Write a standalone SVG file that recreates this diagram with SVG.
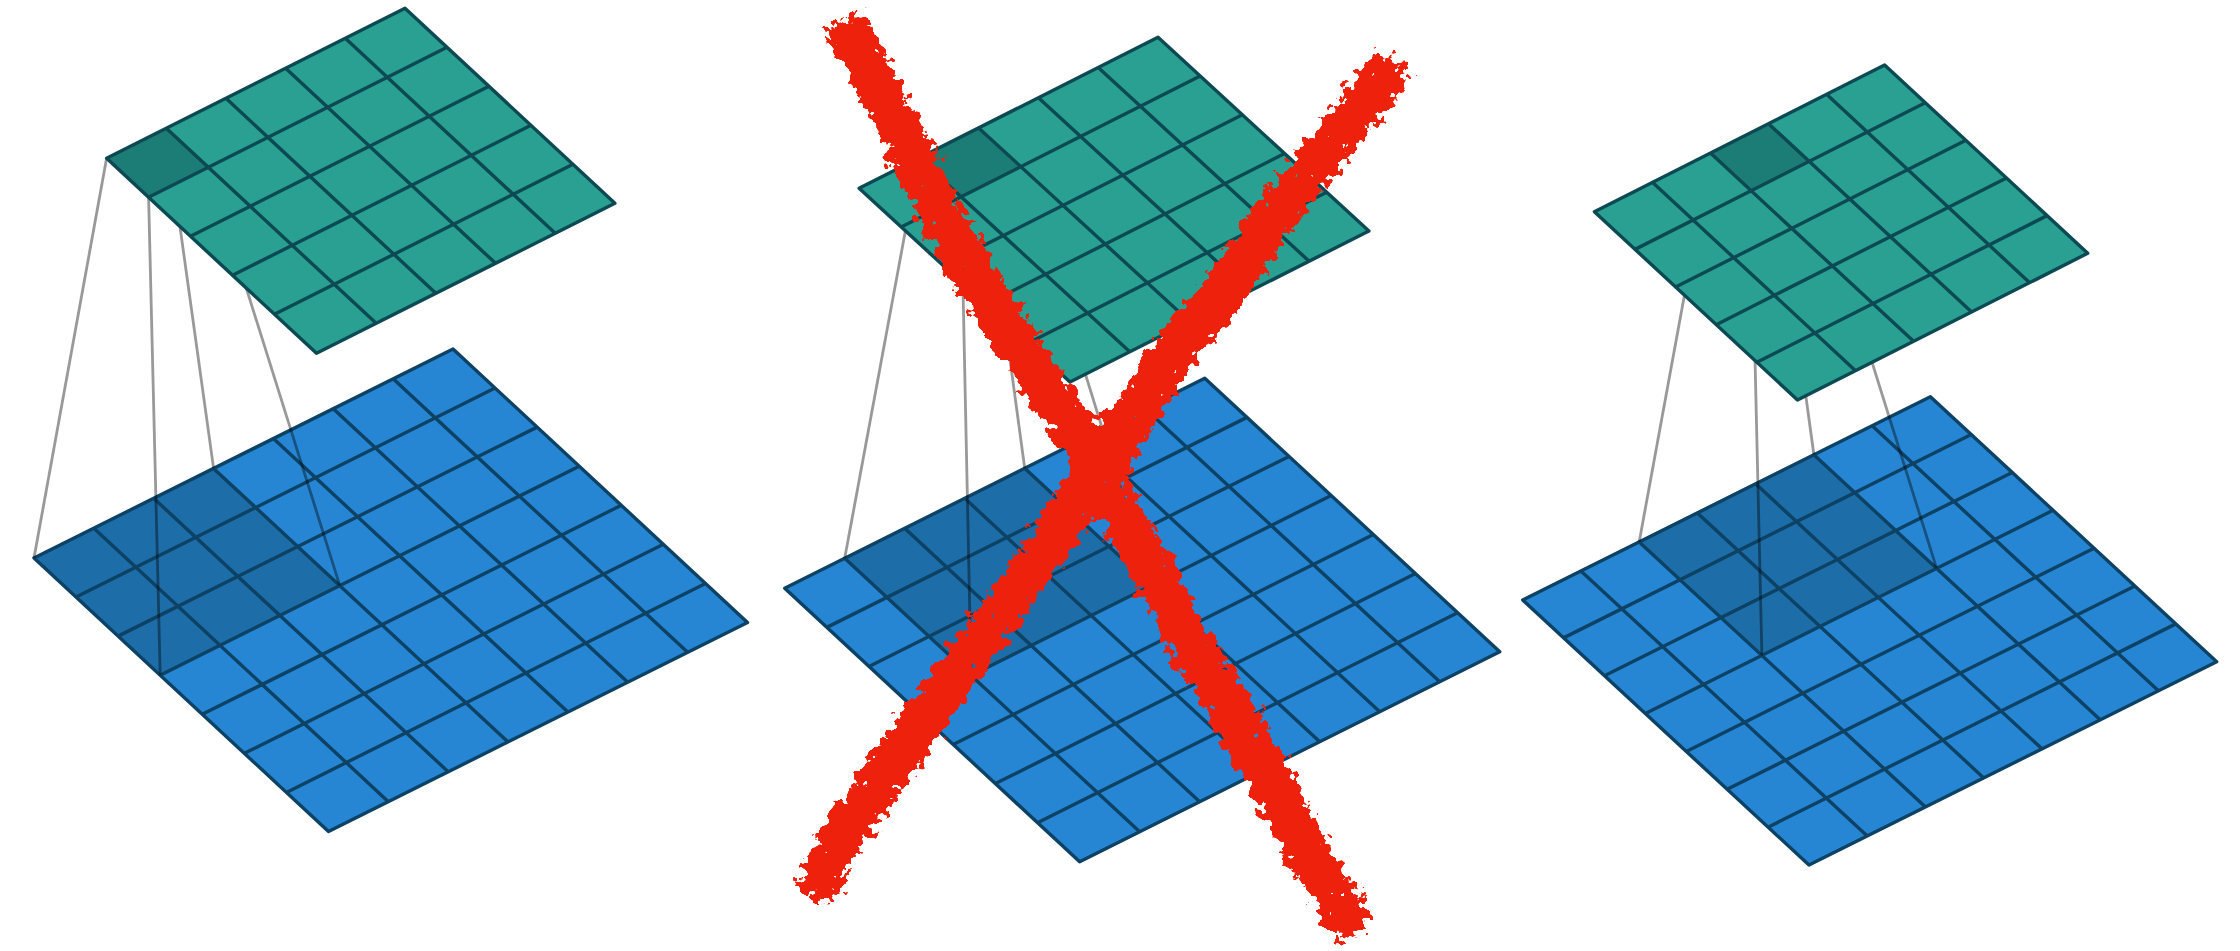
<svg xmlns="http://www.w3.org/2000/svg" xmlns:xlink="http://www.w3.org/1999/xlink" width="2240" height="951" viewBox="0 0 2240 951">
<style>
.b{fill:#2686d4}
.bs{fill:#1c6da8}
.t{fill:#29a092}
.ts{fill:#1f7b76}
.bl{fill:none;stroke:#0c4265;stroke-width:3.4;vector-effect:non-scaling-stroke;stroke-linejoin:round}
.tl{fill:none;stroke:#0c4a52;stroke-width:3.4;vector-effect:non-scaling-stroke;stroke-linejoin:round}
.panel{filter:url(#soft)}
#connectors{mix-blend-mode:multiply}
#connectors line{stroke:#999;stroke-width:2.8}
#cross path{fill:none;stroke:#ee220c;stroke-width:44;stroke-linecap:butt;stroke-linejoin:round}
</style>
<defs>
<filter id="soft" x="-5%" y="-5%" width="110%" height="110%"><feGaussianBlur stdDeviation="0.7"/></filter>
<filter id="rough" filterUnits="userSpaceOnUse" x="0" y="0" width="2240" height="951" color-interpolation-filters="sRGB">
<feTurbulence type="fractalNoise" baseFrequency="0.1" numOctaves="3" seed="7" result="n"/>
<feDisplacementMap in="SourceGraphic" in2="n" scale="16" xChannelSelector="R" yChannelSelector="G" result="d"/>
<feGaussianBlur in="d" stdDeviation="7" result="b"/>
<feColorMatrix in="n" type="matrix" values="0 0 0 0 0 0 0 0 0 0 0 0 0 0 0 1 0 0 0 0" result="na"/>
<feComposite in="b" in2="na" operator="arithmetic" k1="0" k2="1" k3="1.4" k4="-1.05" result="sum"/>
<feComponentTransfer in="sum" result="mask"><feFuncA type="linear" slope="30" intercept="-4.5"/></feComponentTransfer>
<feComponentTransfer in="b" result="near"><feFuncA type="linear" slope="30" intercept="-3"/></feComponentTransfer>
<feComposite in="mask" in2="near" operator="in" result="m2"/>
<feFlood flood-color="#ee220c"/>
<feComposite in2="m2" operator="in"/>
</filter>
<path id="g5" class="tl" d="M0 0H5V5H0Z M1 0V5 M2 0V5 M3 0V5 M4 0V5 M0 1H5 M0 2H5 M0 3H5 M0 4H5"/>
<path id="g7" class="bl" d="M0 0H7V7H0Z M1 0V7 M2 0V7 M3 0V7 M4 0V7 M5 0V7 M6 0V7 M0 1H7 M0 2H7 M0 3H7 M0 4H7 M0 5H7 M0 6H7"/>
</defs>
<rect width="2240" height="951" fill="#fff"/>
<g id="input-1" class="panel"><g transform="matrix(59.857 -29.857 42.07 39.07 34 558)">
<rect class="b" width="7" height="7"/><rect class="bs" width="3" height="3"/><use href="#g7"/>
</g></g>
<g id="input-2" class="panel"><g transform="matrix(60.01 -30 42.14 39.06 784.7 588.3)">
<rect class="b" width="7" height="7"/><rect class="bs" x="1" width="3" height="3"/><use href="#g7"/>
</g></g>
<g id="input-3" class="panel"><g transform="matrix(58.24 -29.04 40.9 37.86 1522.7 600)">
<rect class="b" width="7" height="7"/><rect class="bs" x="2" width="3" height="3"/><use href="#g7"/>
</g></g>
<g id="connectors">
<line x1="106.6" y1="158.3" x2="34" y2="558"/>
<line x1="148.6" y1="197.3" x2="160.2" y2="675.2"/>
<line x1="166.3" y1="128.3" x2="213.6" y2="468.4"/>
<line x1="208.3" y1="167.3" x2="339.8" y2="585.6"/>
<line x1="918.9" y1="158.1" x2="844.7" y2="558.3"/>
<line x1="961.1" y1="196.8" x2="971.1" y2="675.5"/>
<line x1="978.7" y1="127.9" x2="1024.7" y2="468.3"/>
<line x1="1020.9" y1="166.6" x2="1151.1" y2="585.5"/>
<line x1="1710.5" y1="153" x2="1639.2" y2="541.9"/>
<line x1="1751.1" y1="190.7" x2="1761.9" y2="655.5"/>
<line x1="1768.5" y1="123.7" x2="1813.9" y2="454.8"/>
<line x1="1809.1" y1="161.3" x2="1936.6" y2="568.4"/>
</g>
<g id="output-1" class="panel"><g transform="matrix(59.68 -30 41.98 39 106.6 158.3)">
<rect class="t" width="5" height="5"/><rect class="ts" width="1" height="1"/><use href="#g5"/>
</g></g>
<g id="output-2" class="panel"><g transform="matrix(59.78 -30.2 42.18 38.74 859.1 188.3)">
<rect class="t" width="5" height="5"/><rect class="ts" x="1" width="1" height="1"/><use href="#g5"/>
</g></g>
<g id="output-3" class="panel"><g transform="matrix(58.04 -29.34 40.62 37.66 1594.4 211.7)">
<rect class="t" width="5" height="5"/><rect class="ts" x="2" width="1" height="1"/><use href="#g5"/>
</g></g>
<g id="cross" filter="url(#rough)">
<path d="M843 20L893.6 117L927 187L969 267L1011 333L1053.6 400L1100 467L1120 513L1157.5 580L1186 637L1228 703L1261 760L1299 837L1356 933"/>
<path d="M1396.6 63L1352 117L1302 180L1264 233L1218 300L1180 343L1138 410L1104 467L1087 487L1025 577L983 637L936 700L888.5 770L841 837L813 897"/>
</g>
</svg>
